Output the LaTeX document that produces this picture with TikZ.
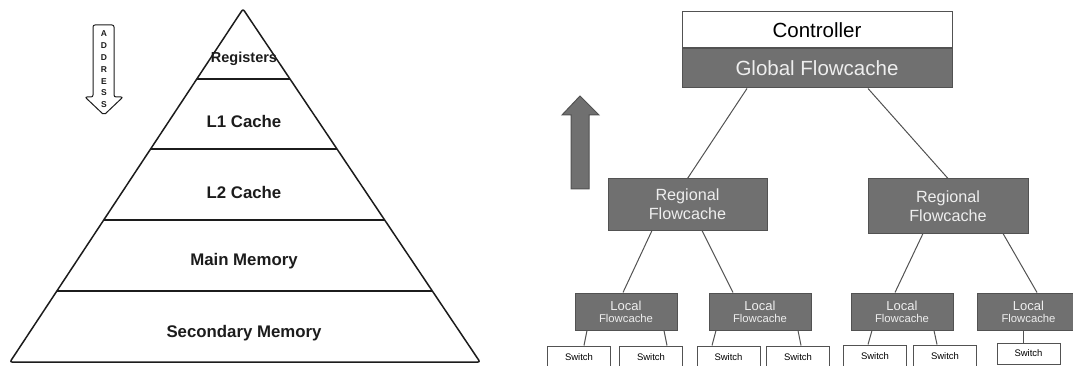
\documentclass[tikz,border=0pt]{standalone}
\usepackage{fontspec}
\setmainfont{Liberation Sans}
\usetikzlibrary{positioning, calc}
\definecolor{flowfill}{RGB}{112,112,112}
\definecolor{flowline}{RGB}{82,82,82}
\definecolor{flowtext}{RGB}{238,238,238}
\definecolor{pyrline}{RGB}{28,28,28}

\begin{document}
\begin{tikzpicture}[x=1pt, y=-1pt,
    cachebox/.style={draw=flowline, fill=flowfill, text=flowtext, line width=1pt, inner sep=0pt, align=center},
    switchbox/.style={draw=flowline, fill=white, line width=1pt, inner sep=0pt, minimum width=63pt, font=\fontsize{9.5}{11}\selectfont},
    link/.style={draw=flowline, line width=1pt},
    level/.style={font=\bfseries\fontsize{16.8}{20}\selectfont, text=pyrline}]
    \useasboundingbox (0,0) rectangle (1073,366);

    % Memory pyramid
    \coordinate (apex) at (243,9);
    \coordinate (bl) at (10,362);
    \coordinate (br) at (480,362);
    \draw[pyrline, line width=1.5pt, line join=round, rounded corners=2pt] (apex) -- (br) -- (bl) -- cycle;
    \foreach \y in {79,149,220,291} {
        \draw[pyrline, line width=1.5pt] ($(apex)!{(\y-9)/353}!(bl)$) -- ($(apex)!{(\y-9)/353}!(br)$);
    }
    \node[level, font=\bfseries\fontsize{14.5}{17}\selectfont] (regs) at (244,59) {Registers};
    \node[level] (lonecache) at (244,121) {L1 Cache};
    \node[level] (ltwocache) at (244,192) {L2 Cache};
    \node[level] (mainmem) at (244,261) {Main Memory};
    \node[level] (secmem) at (244,333) {Secondary Memory};

    % Address arrow
    \draw[pyrline, line width=1pt, rounded corners=2pt]
        (93,25) -- (114,25) -- (114,97) -- (123,97) -- (104,115) -- (85,97) -- (93,97) -- cycle;
    \foreach \c [count=\i] in {A,D,D,R,E,S,S} {
        \node[font=\bfseries\fontsize{8.5}{9}\selectfont, text=pyrline, inner sep=0pt] (addr\i) at (104,{22.2+\i*11.8}) {\c};
    }

    % Flowcache hierarchy
    \node[draw=flowline, fill=white, line width=1pt, inner sep=0pt, minimum width=270pt, minimum height=36pt,
          font=\fontsize{20.5}{24}\selectfont] (ctrl) at (817,30) {Controller};
    \node[cachebox, minimum width=270pt, minimum height=39pt, font=\fontsize{20.5}{24}\selectfont,
          below=0pt of ctrl] (gf) {Global Flowcache};

    \node[cachebox, minimum width=159pt, minimum height=51pt, font=\fontsize{16.2}{18.7}\selectfont]
        (rl) at (687.5,204.5) {Regional\\Flowcache};
    \node[cachebox, minimum width=160pt, minimum height=54pt, font=\fontsize{16.2}{18.7}\selectfont]
        (rr) at (948,206) {Regional\\Flowcache};

    % Local flowcaches
    \foreach \n/\x in {locone/626, loctwo/760, locthree/902, locfour/1028.5} {
        \node[cachebox, minimum width=102pt, minimum height=37pt] (\n) at (\x,311.5)
            {\fontsize{13}{14}\selectfont Local\\\fontsize{11.3}{14.5}\selectfont Flowcache};
    }

    % Switches
    \foreach \n/\x/\y in {sone/579/357, stwo/651/357, sthree/728.5/357, sfour/798/357,
                          sfive/875/356, ssix/945/356} {
        \node[switchbox, minimum height=22pt] (\n) at (\x,\y) {Switch};
    }
    \node[switchbox, minimum height=21pt] (sseven) at (1028.5,353.5) {Switch};

    % Up arrow
    \filldraw[fill=flowfill, draw=flowline, line width=1pt]
        (571,189) -- (571,115) -- (562,115) -- (580,96) -- (599,115) -- (589,115) -- (589,189) -- cycle;

    % Connectors
    \draw[link] ([xshift=-70pt]gf.south) -- (rl.north);
    \draw[link] ([xshift=51pt]gf.south) -- (rr.north);
    \draw[link] ([xshift=-35.5pt]rl.south) -- ([xshift=-3pt]locone.north);
    \draw[link] ([xshift=14.5pt]rl.south) -- ([xshift=-27pt]loctwo.north);
    \draw[link] ([xshift=-25pt]rr.south) -- ([xshift=-7pt]locthree.north);
    \draw[link] ([xshift=55pt]rr.south) -- ([xshift=8.5pt]locfour.north);
    \draw[link] ([xshift=-39pt]locone.south) -- ([xshift=5pt]sone.north);
    \draw[link] ([xshift=38pt]locone.south) -- ([xshift=16pt]stwo.north);
    \draw[link] ([xshift=-44pt]loctwo.south) -- ([xshift=-16.5pt]sthree.north);
    \draw[link] ([xshift=38pt]loctwo.south) -- ([xshift=3pt]sfour.north);
    \draw[link] ([xshift=-30pt]locthree.south) -- ([xshift=-7pt]sfive.north);
    \draw[link] ([xshift=32pt]locthree.south) -- ([xshift=-8pt]ssix.north);
    \draw[link] ([xshift=-5.5pt]locfour.south) -- ([xshift=-5.5pt]sseven.north);
\end{tikzpicture}
\end{document}
